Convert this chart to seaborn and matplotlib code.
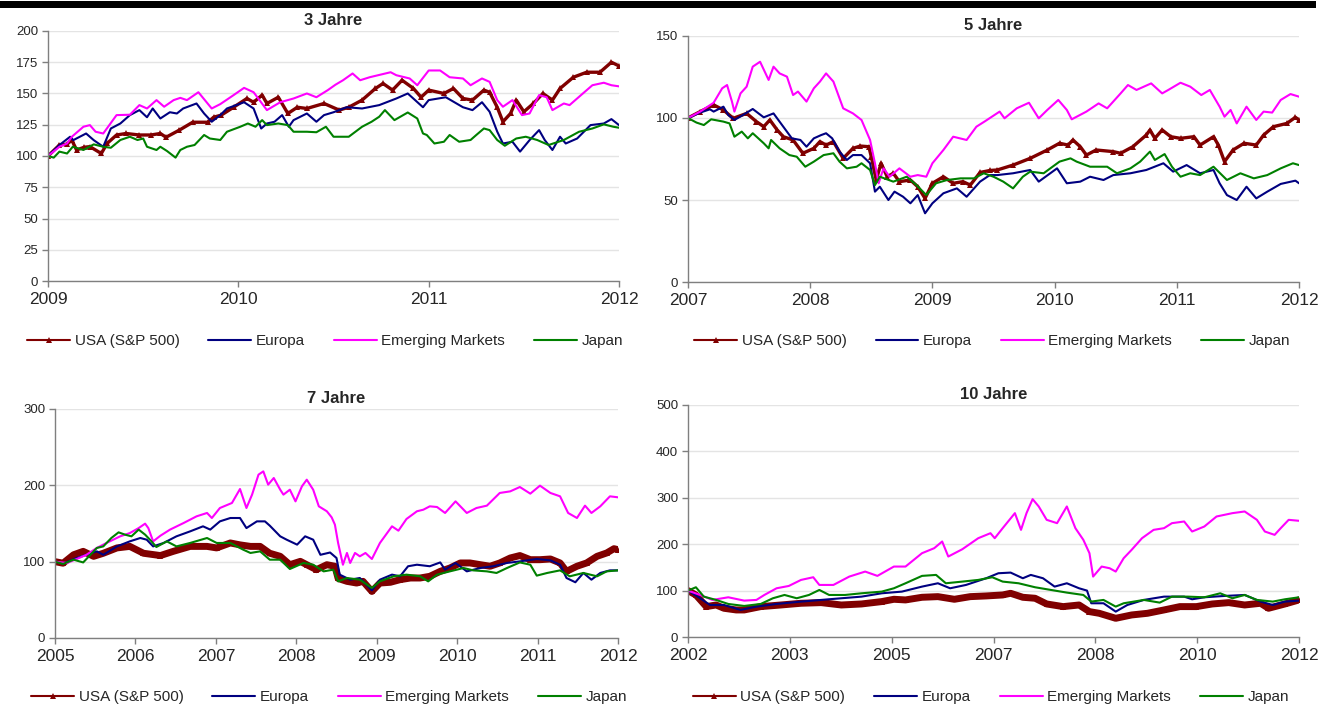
import pandas as pd
import seaborn as sns
import matplotlib.pyplot as plt
from matplotlib.lines import Line2D
from matplotlib.patches import Rectangle

SERIES = ['USA (S&P 500)', 'Europa', 'Emerging Markets', 'Japan']
COLORS = ['#800000', '#000080', '#ff00ff', '#008000']

# 3 Jahre, x = Jahre seit 2009
usa3_t = [0, 0.06, 0.1, 0.125, 0.15, 0.19, 0.22, 0.28, 0.31, 0.36, 0.41, 0.48, 0.54, 0.59, 0.62, 0.69, 0.76, 0.84,
          0.87, 0.91, 0.975, 1.045, 1.08, 1.125, 1.15, 1.21, 1.26, 1.31, 1.36, 1.45, 1.53, 1.58, 1.65, 1.72, 1.76,
          1.81, 1.86, 1.92, 1.96, 2.0, 2.08, 2.13, 2.18, 2.23, 2.29, 2.32, 2.36, 2.39, 2.43, 2.46, 2.5, 2.55, 2.6,
          2.65, 2.69, 2.76, 2.83, 2.9, 2.96, 3.0]
usa3 = [100, 108.8, 109.5, 112.7, 104.8, 107, 107.5, 102, 110, 116.8, 118, 116.8, 116.8, 118, 115, 120.7, 127, 127,
        131, 132.7, 139, 146, 143, 148.7, 142, 147, 134, 139, 138, 142, 136.7, 139, 144.7, 154, 158,
        152.7, 160.6, 154, 147, 152.7, 150, 154, 146, 144.7, 152.7, 151, 139, 127.4, 134, 144.7, 135.4, 142, 150,
        144.7, 154, 163, 167, 167, 175, 172]
eur3_t = [0, 0.06, 0.116, 0.133, 0.2, 0.24, 0.29, 0.33, 0.38, 0.43, 0.48, 0.52, 0.55, 0.59, 0.64, 0.677, 0.71, 0.78,
          0.82, 0.86, 0.905, 0.94, 1.03, 1.08, 1.12, 1.15, 1.19, 1.23, 1.265, 1.29, 1.36, 1.41, 1.45, 1.5, 1.57,
          1.65, 1.74, 1.83, 1.89, 1.97, 2.0, 2.09, 2.18, 2.23, 2.28, 2.32, 2.36, 2.39, 2.44, 2.48, 2.53, 2.58, 2.61,
          2.65, 2.69, 2.72, 2.78, 2.85, 2.92, 2.96, 3.0]
eur3 = [100, 108.8, 115.4, 112.7, 118, 112.7, 107.4, 122, 126, 132.7, 136.7, 131, 138, 130, 135, 134, 138, 142,
        134, 127.4, 132.7, 138, 143, 138, 122, 126, 127.4, 132.7, 123.4, 128.7, 134, 127.4, 132.7, 135, 139,
        138, 140.7, 146, 150, 139, 144.7, 147, 139, 136.7, 143, 135.4, 119.5, 110, 111.4, 103.5, 112.7, 120.7, 112.7,
        104.8, 115.4, 110, 114, 124.7, 126, 129.5, 124.7]
em3_t = [0, 0.06, 0.1, 0.125, 0.186, 0.22, 0.25, 0.29, 0.36, 0.43, 0.48, 0.52, 0.57, 0.61, 0.66, 0.695, 0.73, 0.79,
         0.86, 0.905, 0.975, 1.03, 1.08, 1.15, 1.22, 1.29, 1.36, 1.41, 1.47, 1.51, 1.55, 1.6, 1.64, 1.69, 1.8, 1.83,
         1.9, 1.94, 2.0, 2.06, 2.11, 2.18, 2.22, 2.28, 2.32, 2.36, 2.39, 2.44, 2.49, 2.53, 2.58, 2.62, 2.65, 2.71,
         2.74, 2.81, 2.86, 2.92, 2.96, 3.0]
em3 = [100, 107.4, 110, 115.4, 123.4, 124.7, 119.4, 118, 132.7, 133, 140.7, 138, 144.7, 139.4, 144.7, 146.5, 144.7, 151,
       138, 141.5, 148.7, 154.5, 151, 136.7, 143, 146, 150, 147, 152.7, 157, 160.6, 166, 160.6, 163, 167, 164.6,
       162, 156.6, 168.4, 168.4, 163, 162, 156.6, 162, 159.3, 144.7, 139.4, 144.7, 132.7, 134, 148.7, 147, 136.7, 142,
       140.7, 150, 156.6, 158.6, 156.6, 155.7]
jap3_t = [0, 0.03, 0.06, 0.1, 0.13, 0.186, 0.24, 0.29, 0.33, 0.38, 0.43, 0.47, 0.5, 0.52, 0.57, 0.59, 0.625, 0.67,
          0.695, 0.73, 0.77, 0.82, 0.85, 0.905, 0.94, 1.01, 1.05, 1.09, 1.125, 1.15, 1.21, 1.26, 1.29, 1.36, 1.41,
          1.46, 1.5, 1.58, 1.65, 1.7, 1.74, 1.77, 1.82, 1.89, 1.94, 1.97, 1.99, 2.03, 2.08, 2.11, 2.16, 2.22, 2.25,
          2.29, 2.32, 2.36, 2.4, 2.46, 2.51, 2.57, 2.63, 2.71, 2.79, 2.86, 2.92, 2.97, 3.0]
jap3 = [100, 98.7, 103.5, 102, 107.4, 104.8, 109.3, 107.4, 106.6, 112.8, 115.4, 112.8, 114, 107.4, 104.8, 107.4, 104, 98.7,
        104.8, 107.4, 108.8, 116.8, 114, 112.8, 119.4, 123.4, 126, 123.4, 128.7, 124.7, 126, 124.7, 119.4, 119.4, 119,
        123.4, 115.4, 115.4, 123.4, 127.4, 131.4, 136.7, 128.7, 134.8, 130, 118, 116.8, 110, 111.4, 116.8, 111.4, 112.8,
        116.8, 122, 120.7, 112.8, 108.2, 114, 115.4, 112.8, 108.8, 112.8, 119.4, 122, 125.3, 123.4, 122.6]

# 5 Jahre, x = Jahre seit 2007
usa5_t = [0, 0.1, 0.21, 0.29, 0.37, 0.48, 0.56, 0.62, 0.67, 0.73, 0.78, 0.86, 0.94, 1.03, 1.08, 1.13, 1.19, 1.27,
          1.35, 1.41, 1.48, 1.5, 1.54, 1.58, 1.63, 1.68, 1.73, 1.82, 1.88, 1.94, 2.0, 2.09, 2.17, 2.25, 2.31, 2.39,
          2.47, 2.53, 2.66, 2.8, 2.94, 3.04, 3.11, 3.15, 3.21, 3.26, 3.34, 3.48, 3.54, 3.64, 3.75, 3.78, 3.82, 3.88,
          3.95, 4.03, 4.14, 4.19, 4.3, 4.34, 4.39, 4.46, 4.55, 4.65, 4.71, 4.79, 4.9, 4.97, 5.0]
usa5 = [100, 103.9, 108, 104.9, 99.8, 102.8, 97.8, 94.7, 98.8, 92.7, 88.6, 86.6, 78.5, 81.5, 85.6, 83.5, 85.6, 75.4,
        81.5, 82.9, 82.5, 76.4, 62.2, 72.4, 64.2, 66.3, 61.2, 62.2, 58.1, 51, 60.2, 64.2, 60.2, 61.2, 59.1, 66.8,
        68, 68.3, 71.3, 75.4, 80.5, 84.6, 83.5, 86.6, 82.5, 77.4, 80.5, 79.5, 78.5, 82.5, 89.6, 92.7, 87.6, 92.7,
        88.6, 87.6, 88.6, 83.5, 88.6, 83.5, 73.4, 80.5, 84.6, 83.5, 89.6, 94.7, 96.7, 100.4, 98.8]
eur5_t = [0, 0.1, 0.18, 0.21, 0.29, 0.33, 0.38, 0.45, 0.53, 0.62, 0.7, 0.78, 0.85, 0.92, 0.97, 1.03, 1.09, 1.13,
          1.18, 1.24, 1.3, 1.35, 1.42, 1.49, 1.53, 1.57, 1.64, 1.69, 1.76, 1.82, 1.88, 1.94, 2.0, 2.09, 2.2, 2.28,
          2.39, 2.47, 2.53, 2.66, 2.8, 2.87, 3.02, 3.1, 3.21, 3.29, 3.4, 3.48, 3.62, 3.75, 3.89, 3.97, 4.08, 4.19,
          4.3, 4.35, 4.41, 4.49, 4.57, 4.65, 4.74, 4.85, 4.97, 5.0]
eur5 = [100, 103.3, 105.3, 103.9, 106.9, 101.8, 98.8, 101.8, 105.5, 100.4, 102.8, 94.7, 87.6, 86.6, 82.5, 87.6, 89.6, 90.7,
        87.6, 79.5, 74.4, 77.4, 77.4, 72.4, 55.1, 58.1, 50, 55.1, 52, 48, 53, 41.9, 48, 54.1, 57.1, 52,
        61.2, 65.2, 65.2, 66.3, 68.3, 61.2, 69.3, 60.2, 61.2, 64.2, 62.2, 65.2, 66.3, 68.3, 72.4, 67.3, 71.3, 66.3,
        68.3, 60.2, 53, 50, 58.1, 51, 55.1, 59.8, 61.8, 60.2]
em5_t = [0, 0.1, 0.21, 0.28, 0.32, 0.36, 0.38, 0.43, 0.48, 0.53, 0.59, 0.66, 0.7, 0.75, 0.81, 0.86, 0.9, 0.97, 1.03,
         1.08, 1.13, 1.19, 1.27, 1.35, 1.42, 1.49, 1.53, 1.56, 1.6, 1.65, 1.73, 1.82, 1.88, 1.95, 2.0, 2.09, 2.17,
         2.28, 2.36, 2.43, 2.55, 2.59, 2.69, 2.79, 2.87, 2.94, 3.03, 3.1, 3.14, 3.26, 3.36, 3.43, 3.54, 3.6, 3.67,
         3.79, 3.88, 3.93, 4.03, 4.11, 4.2, 4.27, 4.35, 4.39, 4.44, 4.49, 4.57, 4.65, 4.71, 4.78, 4.85, 4.93, 5.0]
em5 = [100, 103.9, 109.3, 118.1, 120.1, 110, 103.9, 115, 119.1, 131.3, 134.3, 123.2, 131.3, 127.2, 125.2, 114, 116.1, 110, 118.1,
       122.2, 127.2, 122.2, 105.9, 102.8, 98.8, 86.6, 72.4, 60.2, 69.3, 64.2, 69.3, 64.2, 65.2, 64.2, 72.4, 80.5, 88.6,
       86.6, 94.7, 98, 103.9, 99.8, 105.9, 109.3, 99.8, 104.9, 111, 104.9, 99.2, 103.9, 108.9, 105.9, 115, 120.1, 117.1,
       121.1, 115, 117.1, 121.5, 119.1, 114, 117.1, 106.9, 100.8, 104.9, 96.7, 106.9, 98.8, 103.9, 103.3, 111, 114.6, 113]
jap5_t = [0, 0.07, 0.13, 0.19, 0.29, 0.34, 0.38, 0.44, 0.49, 0.53, 0.62, 0.66, 0.68, 0.75, 0.83, 0.89, 0.96, 1.03,
          1.11, 1.19, 1.24, 1.3, 1.38, 1.42, 1.49, 1.53, 1.57, 1.68, 1.79, 1.87, 1.95, 2.03, 2.12, 2.23, 2.34, 2.42,
          2.5, 2.58, 2.66, 2.74, 2.8, 2.91, 3.04, 3.13, 3.18, 3.29, 3.43, 3.51, 3.62, 3.7, 3.78, 3.82, 3.9, 3.96,
          4.03, 4.11, 4.19, 4.3, 4.41, 4.52, 4.63, 4.74, 4.85, 4.95, 5.0]
jap5 = [100, 97.2, 95.7, 99.2, 97.8, 96.7, 88.6, 91.7, 87.6, 90.7, 84.6, 81.5, 86.6, 81.5, 77.4, 76.4, 70.3, 73.4,
        77.4, 78.5, 73.4, 69.3, 70.3, 72.4, 68.3, 59.1, 64.2, 61.2, 64.2, 59.1, 53, 60.2, 62.2, 63.2, 63.2, 66.3,
        64.2, 61.2, 57.1, 64.2, 67.3, 66.3, 73.4, 75.4, 73.4, 70.3, 70.3, 66.3, 69.3, 73.4, 79.5, 74.4, 78, 70.3,
        64.2, 66.3, 65.2, 70.3, 62.2, 66.3, 63.2, 65.2, 69.3, 72.4, 71.3]

# 7 Jahre, x = Jahre seit 2005
usa7_t = [0, 0.1, 0.23, 0.35, 0.48, 0.6, 0.77, 0.93, 1.1, 1.31, 1.47, 1.68, 1.89, 2.01, 2.18, 2.3, 2.43, 2.55,
          2.67, 2.8, 2.92, 3.05, 3.13, 3.25, 3.38, 3.48, 3.52, 3.63, 3.75, 3.83, 3.94, 4.04, 4.17, 4.29, 4.42, 4.54,
          4.66, 4.79, 4.91, 5.04, 5.16, 5.29, 5.41, 5.53, 5.66, 5.78, 5.91, 6.03, 6.16, 6.28, 6.36, 6.49, 6.61,
          6.74, 6.86, 6.95, 7.0]
usa7 = [100, 98, 109, 113.5, 107, 111, 118, 120, 111, 108, 113.5, 120, 120, 118, 124.5, 122, 120, 120,
        111, 107, 96, 100.4, 96, 89.5, 96, 94, 78, 74.2, 72, 74.2, 61, 72, 73, 76.4, 78.6, 78.6,
        80.8, 87.3, 91.7, 98.3, 98.3, 96, 94, 98.3, 104.8, 108, 102.6, 102.6, 103.5, 98.3, 87.3, 94, 98.3,
        107, 111.4, 117, 115.7]
eur7_t = [0, 0.1, 0.27, 0.39, 0.52, 0.6, 0.77, 0.93, 1.06, 1.14, 1.22, 1.35, 1.51, 1.68, 1.84, 1.93, 2.05, 2.18,
          2.3, 2.38, 2.51, 2.61, 2.67, 2.8, 2.88, 3.01, 3.11, 3.21, 3.3, 3.42, 3.5, 3.54, 3.67, 3.79, 3.94, 4.04,
          4.19, 4.29, 4.39, 4.5, 4.66, 4.79, 4.85, 4.98, 5.12, 5.29, 5.45, 5.62, 5.78, 5.99, 6.16, 6.28, 6.36,
          6.47, 6.57, 6.67, 6.78, 6.9, 7.0]
eur7 = [100, 97.4, 104.8, 109, 113.5, 109, 120, 126.6, 131, 128.8, 120, 124.5, 133.2, 139.7, 146.3, 142, 152.8, 157.2,
        157.2, 144, 152.8, 152.8, 147.2, 133.2, 128.8, 122.3, 133.2, 128.8, 109, 112, 104.8, 83, 76.4, 78.6, 62.4, 76.4,
        83, 80.8, 94, 96, 94, 99, 89.5, 98.3, 87.3, 91.7, 94, 98.3, 100.4, 103.5, 101.7, 96, 78.6,
        73, 85.2, 76.4, 85.2, 88.6, 88.6]
em7_t = [0, 0.15, 0.27, 0.39, 0.52, 0.64, 0.81, 0.93, 1.04, 1.12, 1.16, 1.22, 1.31, 1.43, 1.6, 1.76, 1.89, 1.95,
         2.05, 2.2, 2.3, 2.38, 2.45, 2.53, 2.59, 2.65, 2.72, 2.8, 2.84, 2.92, 2.99, 3.07, 3.13, 3.21, 3.28, 3.38,
         3.44, 3.48, 3.52, 3.58, 3.63, 3.67, 3.73, 3.79, 3.86, 3.94, 4.04, 4.19, 4.27, 4.37, 4.5, 4.58, 4.66, 4.75,
         4.85, 4.98, 5.12, 5.24, 5.37, 5.53, 5.66, 5.78, 5.91, 6.03, 6.16, 6.28, 6.38, 6.49, 6.59, 6.67, 6.78, 6.9, 7.0]
em7 = [100, 98.3, 103.5, 109, 118, 124.5, 133.2, 137.5, 144, 149.8, 144, 126.6, 134, 142, 150.7, 159.4, 163.8, 157.2,
       170.3, 176.9, 195.2, 170.3, 187.8, 214, 218.3, 200.9, 209.6, 194.3, 187.8, 194.3, 179, 198.7, 207.4, 194.3, 172.5, 166,
       158, 148.5, 124.5, 96, 111.4, 98.3, 111.4, 107, 111.4, 103.5, 124.5, 146.3, 140.6, 155.9, 166, 168.1, 172.5, 171.6,
       163.8, 179, 163.8, 170.3, 173.4, 190, 192.1, 197.8, 189.1, 199.6, 190, 185.6, 163.8, 157.2, 173.4, 163.8, 172.5, 185.6, 184.3]
jap7_t = [0, 0.1, 0.23, 0.35, 0.44, 0.52, 0.6, 0.7, 0.79, 0.87, 0.95, 1.04, 1.12, 1.2, 1.26, 1.39, 1.51, 1.68,
          1.89, 2.01, 2.18, 2.34, 2.43, 2.55, 2.67, 2.8, 2.92, 3.09, 3.21, 3.34, 3.46, 3.52, 3.63, 3.79, 3.94, 4.04,
          4.21, 4.37, 4.54, 4.64, 4.75, 4.91, 5.08, 5.2, 5.37, 5.49, 5.62, 5.78, 5.91, 5.99, 6.12, 6.28, 6.4, 6.57,
          6.74, 6.86, 7.0]
jap7 = [100, 97, 102.6, 99, 109, 118, 120, 131, 138.4, 135.4, 133.2, 142, 135.4, 126.6, 119.2, 126.6, 120, 124.5,
        131, 124.5, 124.5, 115.7, 111.4, 113.5, 102.6, 102.6, 90.4, 98.3, 96, 87.3, 89.5, 74.2, 78.6, 76.4, 65.5, 74.2,
        80.8, 83, 80.8, 74.2, 83, 87.3, 91.7, 88.6, 87.3, 85.2, 91.7, 99, 96, 81.7, 85.2, 88.6, 80.8, 85.2,
        80.8, 87.3, 88.6]

# 10 Jahre, x = Jahre seit 2002
usa10_t = [0, 0.13, 0.3, 0.46, 0.59, 0.79, 0.92, 1.19, 1.52, 1.85, 2.18, 2.51, 2.84, 3.17, 3.37, 3.56, 3.83, 4.09,
           4.36, 4.62, 4.88, 5.15, 5.28, 5.48, 5.68, 5.87, 6.14, 6.4, 6.57, 6.73, 7.0, 7.26, 7.52, 7.79, 8.05, 8.32,
           8.58, 8.85, 9.11, 9.37, 9.5, 9.77, 10]
usa10 = [100, 90.6, 65.5, 69, 61.9, 58.3, 58.3, 65.5, 69, 72.7, 74.1, 69, 71.2, 76.3, 81.3, 79.9, 85.6, 87,
         81.3, 87, 88.5, 90.6, 94.2, 85.6, 83.5, 71.2, 65.5, 69, 54.7, 51.1, 40.3, 47.5, 51.1, 58.3, 65.5, 65.5,
         71.2, 74.1, 69, 72.7, 61.9, 71.2, 79.9]
eur10_t = [0, 0.2, 0.36, 0.59, 0.86, 1.12, 1.45, 1.85, 2.18, 2.51, 2.84, 3.17, 3.5, 3.83, 4.09, 4.29, 4.55, 4.88,
           5.08, 5.28, 5.48, 5.61, 5.81, 6.0, 6.2, 6.4, 6.53, 6.6, 6.8, 7.0, 7.19, 7.46, 7.79, 8.12, 8.25, 8.45,
           8.78, 9.11, 9.37, 9.57, 9.77, 10]
eur10 = [100, 83.5, 69, 69, 58.3, 65.5, 71.2, 76.3, 79.9, 83.5, 87, 94.2, 97.8, 108.6, 115.8, 105, 112.2, 126.6,
         137.4, 138.8, 126.6, 133.8, 126.6, 108.6, 115.8, 105, 100, 72.7, 72.7, 54.7, 69, 79.9, 87, 87, 81.3, 85.6,
         88.5, 90.6, 76.3, 69, 76.3, 78.4]
em10_t = [0, 0.2, 0.4, 0.66, 0.92, 1.12, 1.25, 1.45, 1.65, 1.85, 2.05, 2.15, 2.38, 2.64, 2.9, 3.1, 3.37, 3.56, 3.83,
          4.03, 4.16, 4.26, 4.49, 4.75, 4.95, 5.02, 5.15, 5.35, 5.45, 5.54, 5.64, 5.74, 5.87, 6.04, 6.2, 6.34, 6.47,
          6.57, 6.63, 6.77, 6.9, 7.0, 7.13, 7.26, 7.43, 7.62, 7.79, 7.92, 8.12, 8.25, 8.45, 8.65, 8.91, 9.11, 9.31,
          9.44, 9.6, 9.7, 9.83, 10]
em10 = [100, 90.6, 79.9, 85.6, 78.4, 79.9, 90.6, 105, 110, 123, 128.8, 112.2, 112.2, 130.2, 141, 131.7, 151.8, 151.8, 180.6,
        191.4, 205.8, 173.4, 189.2, 212.9, 223.7, 212.9, 234.5, 266.9, 230.9, 266.9, 297.1, 281.3, 252.5, 245.3, 281.3, 234.5, 209.4,
        180.6, 130.2, 151.8, 148.2, 141, 169.8, 187.8, 212.9, 230.9, 234.5, 245.3, 248.9, 227.3, 238.1, 259.7, 266.9, 270.5, 252.5,
        227.3, 220.1, 234.5, 252.5, 250.4]
jap10_t = [0, 0.13, 0.26, 0.46, 0.66, 0.92, 1.19, 1.39, 1.58, 1.78, 1.98, 2.15, 2.31, 2.57, 2.84, 3.17, 3.37, 3.56,
           3.83, 4.06, 4.22, 4.49, 4.75, 4.98, 5.15, 5.41, 5.68, 5.94, 6.2, 6.47, 6.6, 6.8, 7.0, 7.13, 7.46, 7.72,
           7.92, 8.18, 8.45, 8.71, 8.91, 9.11, 9.31, 9.57, 9.77, 10]
jap10 = [100, 107.2, 87, 79.9, 71.2, 66.9, 71.2, 83.5, 90.6, 83.5, 90.6, 101.4, 90.6, 90.6, 94.2, 97.8, 105, 115.8,
         131.7, 133.8, 115.8, 119.4, 123, 128.8, 119.4, 115.8, 107.2, 101.4, 95.7, 90.6, 76.3, 79.9, 65.5, 72.7, 79.9, 74.1,
         87, 87, 85.6, 94.2, 83.5, 90.6, 79.9, 76.3, 81.3, 85.6]

panels = [
    dict(title='3 Jahre', rect=[0.0363, 0.6025, 0.4316, 0.3537], span=3,
         xticks=[0, 1, 2, 3], xlabels=['2009', '2010', '2011', '2012'], ymax=200, ystep=25,
         data=[(usa3_t, usa3), (eur3_t, eur3), (em3_t, em3), (jap3_t, jap3)], thick=False, leg=(0.2457, 0.5177)),
    dict(title='5 Jahre', rect=[0.520, 0.6011, 0.4619, 0.3480], span=5,
         xticks=[0, 1, 2, 3, 4, 5], xlabels=['2007', '2008', '2009', '2010', '2011', '2012'], ymax=150, ystep=50,
         data=[(usa5_t, usa5), (eur5_t, eur5), (em5_t, em5), (jap5_t, jap5)], thick=False, leg=(0.750, 0.5177)),
    dict(title='7 Jahre', rect=[0.0416, 0.0976, 0.4255, 0.3239], span=7,
         xticks=list(range(8)), xlabels=[str(y) for y in range(2005, 2013)], ymax=300, ystep=100,
         data=[(usa7_t, usa7), (eur7_t, eur7), (em7_t, em7), (jap7_t, jap7)], thick=True, leg=(0.2487, 0.0141)),
    dict(title='10 Jahre', rect=[0.520, 0.0990, 0.4619, 0.3282], span=10,
         xticks=[i * 10 / 6 for i in range(7)], xlabels=['2002', '2003', '2005', '2007', '2008', '2010', '2012'],
         ymax=500, ystep=100,
         data=[(usa10_t, usa10), (eur10_t, eur10), (em10_t, em10), (jap10_t, jap10)], thick=True, leg=(0.749, 0.0141)),
]

sns.set_theme(style='white')
plt.rcParams['font.family'] = ['Liberation Sans', 'DejaVu Sans']

fig = plt.figure(figsize=(13.23, 7.07), dpi=100)
fig.add_artist(Rectangle((0, 0.9885), 0.995, 0.0095, transform=fig.transFigure, color='black', lw=0))

for p in panels:
    ax = fig.add_axes(p['rect'])
    for i, (t, v) in enumerate(p['data']):
        df = pd.DataFrame({'t': t, 'v': v})
        if i == 0:
            kw = dict(marker='^', markersize=4.5 if p['thick'] else 5, markeredgewidth=0,
                      linewidth=5 if p['thick'] else 2.4)
        else:
            kw = dict(linewidth=1.5)
        sns.lineplot(data=df, x='t', y='v', ax=ax, color=COLORS[i], estimator=None, sort=False, **kw)
    ax.set_xlim(0, p['span'])
    ax.set_ylim(0, p['ymax'])
    ax.set_xticks(p['xticks'])
    ax.set_xticklabels(p['xlabels'], fontsize=12.5)
    yt = list(range(0, p['ymax'] + 1, p['ystep']))
    ax.set_yticks(yt)
    ax.set_yticklabels([str(y) for y in yt], fontsize=9.5)
    ax.set_xlabel('')
    ax.set_ylabel('')
    ax.grid(axis='y', color='#e4e4e4', lw=1)
    ax.set_axisbelow(True)
    for s in ['top', 'right']:
        ax.spines[s].set_visible(False)
    for s in ['left', 'bottom']:
        ax.spines[s].set_color('#7f7f7f')
        ax.spines[s].set_linewidth(1)
    ax.tick_params(axis='both', direction='out', length=4, width=1, color='#7f7f7f', left=True, bottom=True)
    ax.tick_params(axis='x', pad=4)
    ax.tick_params(axis='y', pad=3)
    ax.set_title(p['title'], fontsize=12, fontweight='bold', pad=4)

    handles = [Line2D([], [], color=COLORS[0], lw=1.5, marker='^', markersize=4, markeredgewidth=0)]
    handles += [Line2D([], [], color=c, lw=1.5) for c in COLORS[1:]]
    fig.legend(handles, SERIES, loc='center', bbox_to_anchor=p['leg'], ncol=4, frameon=False, fontsize=11,
               handlelength=2.8, handletextpad=0.3, columnspacing=1.9, numpoints=1)

fig.savefig('out.png', dpi=100)
